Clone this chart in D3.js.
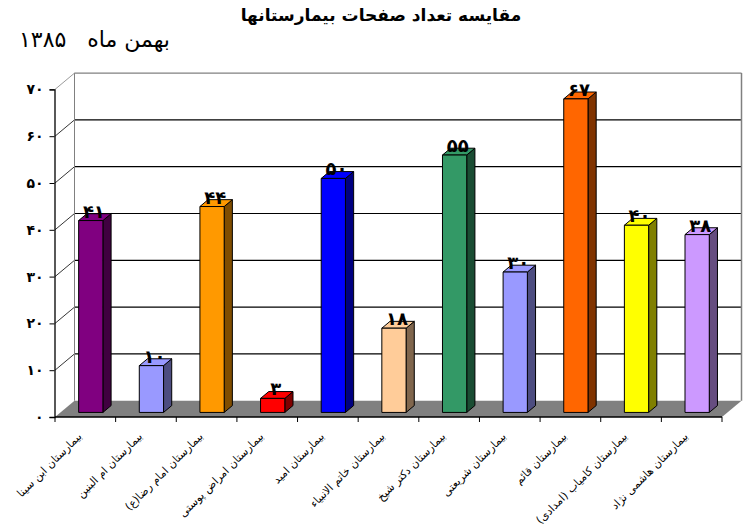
<!DOCTYPE html>
<html><head><meta charset="utf-8">
<script src="https://cdn.jsdelivr.net/npm/d3@7"></script>
<style>body{margin:0;background:#fff}svg{display:block}text{font-family:"DejaVu Sans",sans-serif}</style>
</head><body>
<svg id="c" width="754" height="528"></svg>
<script>
const categories = [
  "بیمارستان ابن سینا",
  "بیمارستان ام البنین",
  "بیمارستان امام رضا(ع)",
  "بیمارستان امراض پوستی",
  "بیمارستان امید",
  "بیمارستان خاتم الانبیاء",
  "بیمارستان دکتر شیخ",
  "بیمارستان شریعتی",
  "بیمارستان قائم",
  "بیمارستان کامیاب (امدادی)",
  "بیمارستان هاشمی نژاد"
];
const values = [41, 10, 44, 3, 50, 18, 55, 30, 67, 40, 38];
const colors = ["#800080","#9999FF","#FF9900","#FF0000","#0000FF","#FFCC99","#339966","#9999FF","#FF6600","#FFFF00","#CC99FF"];
const yTicks = [0,10,20,30,40,50,60,70];
const title = "مقایسه تعداد صفحات بیمارستانها";
const subtitle = "بهمن ماه   ۱۳۸۵";

const fa = n => String(n).replace(/\d/g, d => "۰۱۲۳۴۵۶۷۸۹"[d]);
const svg = d3.select("#c");
const DX = 19.5, DY = 16.3;       // full depth offset
const dF = 0.28, dB = 0.70;       // bar depth range
const x = d3.scaleBand().domain(categories).range([55, 722]);
const y = d3.scaleLinear().domain([0, 70]).range([417, 89.4]);
const bw = x.bandwidth() * 0.4;

// back wall gridlines
const xL = x.range()[0], xR = x.range()[1];
yTicks.forEach(t => {
  if (t === 0) return;
  const c = t === 70 ? "#808080" : "#000";
  svg.append("line").attr("x1", xL + DX).attr("x2", xR + DX)
    .attr("y1", y(t) - DY).attr("y2", y(t) - DY).attr("stroke", c).attr("stroke-width", 1.2);
  svg.append("line").attr("x1", xL).attr("x2", xL + DX)
    .attr("y1", y(t)).attr("y2", y(t) - DY).attr("stroke", c).attr("stroke-width", 0.8);
});
// back wall side edges
svg.append("line").attr("x1", xL + DX).attr("x2", xL + DX).attr("y1", y(70) - DY).attr("y2", y(0) - DY).attr("stroke", "#808080");
svg.append("line").attr("x1", xR + DX).attr("x2", xR + DX).attr("y1", y(70) - DY).attr("y2", y(0) - DY).attr("stroke", "#808080").attr("stroke-width", 1.5);

// floor
svg.append("path")
  .attr("d", `M${xL},${y(0)}L${xR},${y(0)}L${xR + DX},${y(0) - DY}L${xL + DX},${y(0) - DY}Z`)
  .attr("fill", "#808080");

// bars
const darker = c => { const h = d3.rgb(c); return d3.rgb(h.r * 0.5, h.g * 0.5, h.b * 0.5).toString(); };
const g = svg.append("g");
categories.forEach((cat, i) => {
  const v = values[i];
  const cx = x(cat) + x.bandwidth() / 2;
  const x0 = cx - bw / 2 + dF * DX, x1 = cx + bw / 2 + dF * DX;
  const ox = (dB - dF) * DX, oy = (dB - dF) * DY;
  const yb = y(0) - dF * DY, yt = y(v) - dF * DY;
  const st = {stroke: "#000", "stroke-width": 1, "stroke-linejoin": "round"};
  const add = (d, f) => { const p = g.append("path").attr("d", d).attr("fill", f); Object.entries(st).forEach(([k, val]) => p.attr(k, val)); };
  add(`M${x1},${yb}L${x1 + ox},${yb - oy}L${x1 + ox},${yt - oy}L${x1},${yt}Z`, darker(colors[i]));
  add(`M${x0},${yt}L${x1},${yt}L${x1 + ox},${yt - oy}L${x0 + ox},${yt - oy}Z`, colors[i]);
  add(`M${x0},${yb}L${x1},${yb}L${x1},${yt}L${x0},${yt}Z`, colors[i]);
  g.append("text").attr("x", cx + (dF + dB) / 2 * DX - 1).attr("y", yt - 3)
    .attr("text-anchor", "middle").attr("font-weight", "bold").attr("font-size", 18)
    .text(fa(v));
});

// x axis
svg.append("line").attr("x1", xL).attr("x2", xR).attr("y1", y(0)).attr("y2", y(0)).attr("stroke", "#000").attr("stroke-width", 1.3);
const bounds = categories.map(c => x(c)).concat([xR]);
bounds.forEach(b => svg.append("line").attr("x1", b).attr("x2", b).attr("y1", y(0)).attr("y2", y(0) + 5).attr("stroke", "#000"));
categories.forEach(cat => {
  const cx = x(cat) + x.bandwidth() / 2;
  svg.append("text")
    .attr("transform", `translate(${cx - 3},${y(0) + 20}) rotate(-45)`)
    .attr("direction", "rtl").attr("text-anchor", "start")
    .attr("font-size", 11).text(cat);
});

// y axis
const ya = svg.append("g").attr("transform", `translate(${xL - 0.5},0)`)
  .call(d3.axisLeft(y).tickValues(yTicks).tickSize(5).tickFormat(fa));
ya.select(".domain").attr("stroke-width", 1.3);
ya.selectAll("text").attr("font-size", 14).attr("font-weight", "bold").attr("font-family", "DejaVu Sans").attr("dx", -3);

// titles
svg.append("text").attr("x", 381).attr("y", 21).attr("text-anchor", "middle")
  .attr("font-weight", "bold").attr("font-size", 17).text(title);
svg.append("text").attr("x", 170).attr("y", 47).attr("direction", "rtl").attr("text-anchor", "start")
  .attr("font-size", 22).style("white-space", "pre").text(subtitle);
</script>
</body></html>
